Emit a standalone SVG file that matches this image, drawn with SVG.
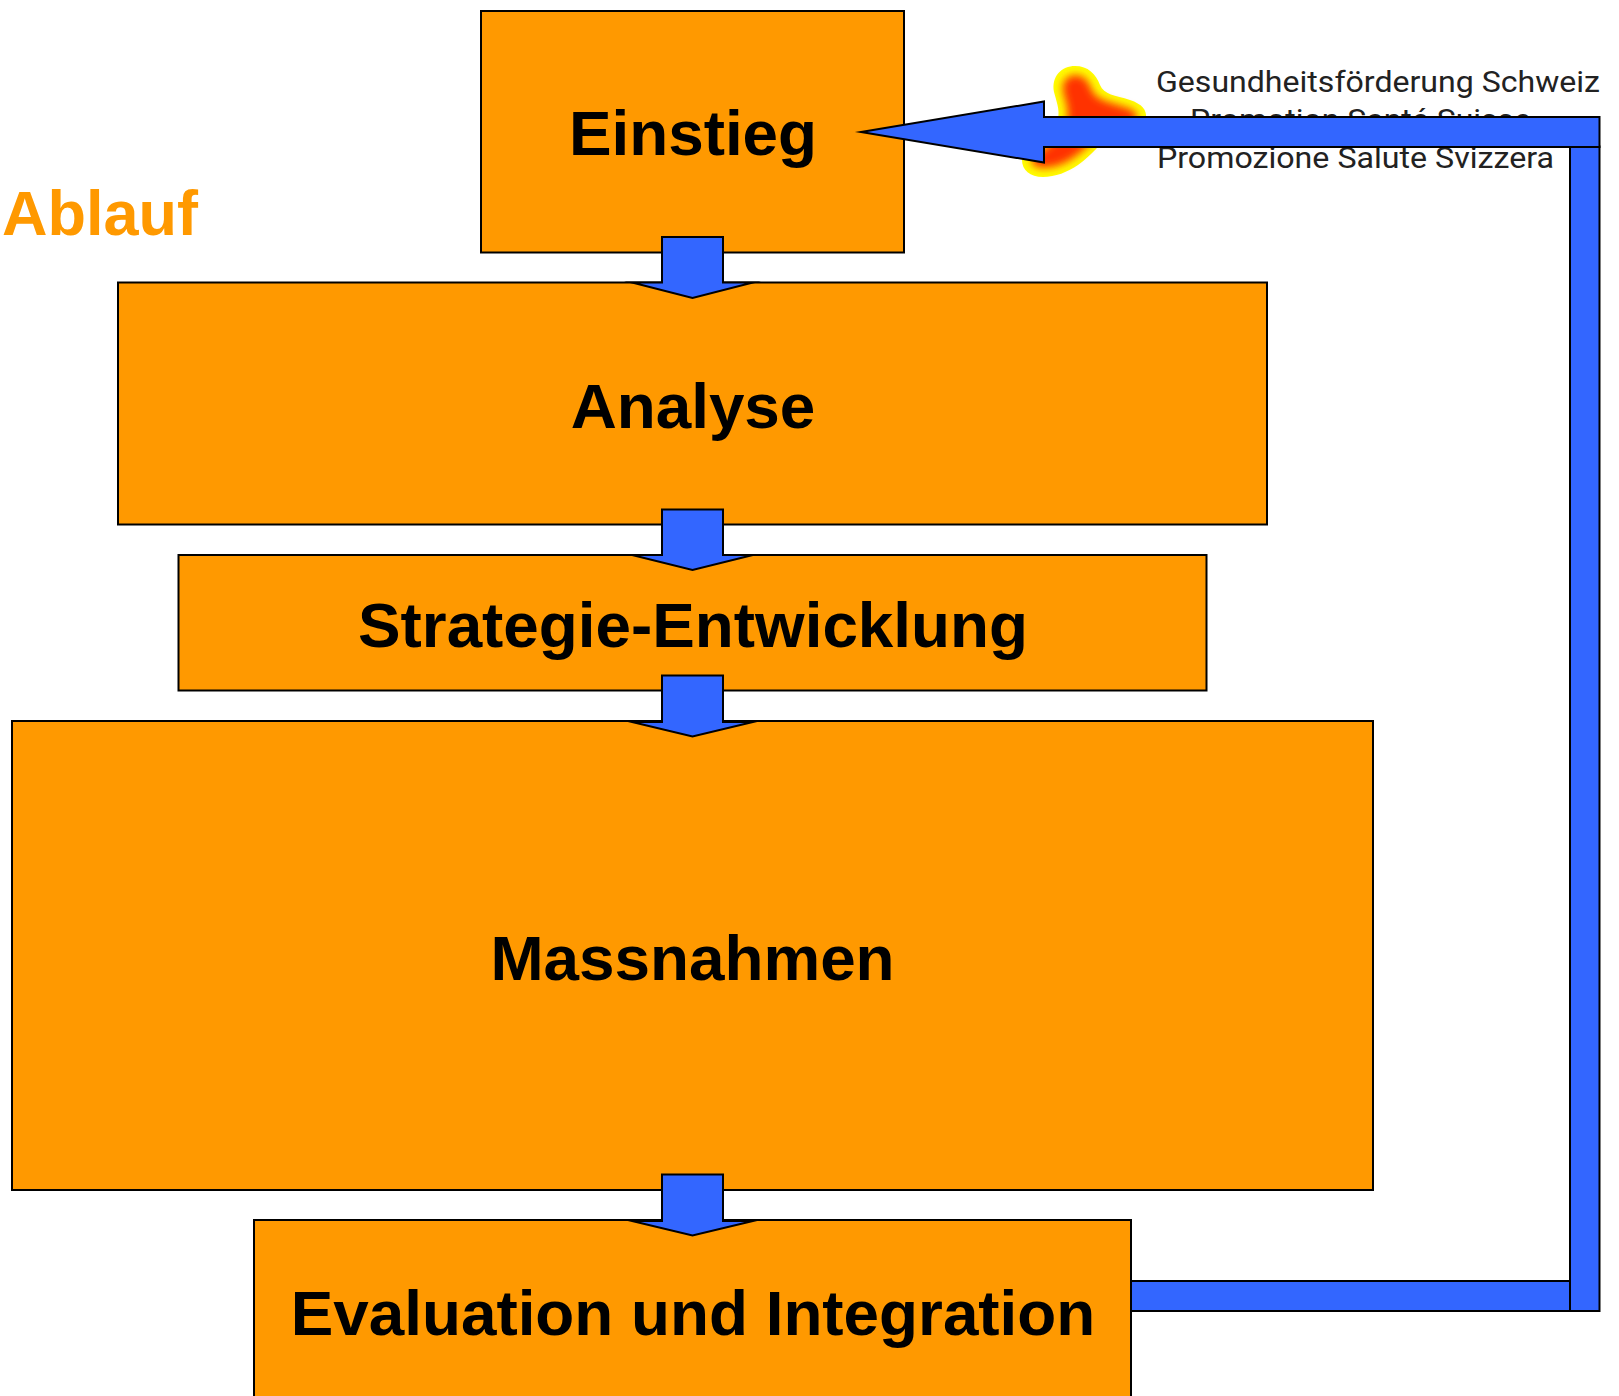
<svg xmlns="http://www.w3.org/2000/svg" width="1619" height="1396" viewBox="0 0 1619 1396">
<style>
.box{fill:#ff9900;stroke:#000;stroke-width:2}
.arrow{fill:#3366ff;stroke:#000;stroke-width:2;stroke-miterlimit:30}
.lbl{font-family:"Liberation Sans",Arial,sans-serif;font-weight:700;font-size:63.800px;text-anchor:middle;fill:#000}
.logo{font-family:"Roboto","Liberation Sans",sans-serif;font-size:30px;font-weight:400;fill:#222}
</style>
<defs>
<filter id="soft" x="-20%" y="-20%" width="140%" height="140%"><feGaussianBlur stdDeviation="4"/></filter>
</defs>
<rect width="1619" height="1396" fill="#fff"/>
<g id="logo">
<path d="M1075 66C1088 66 1096 74 1100 85C1104 95 1115 95 1130 100C1142 104 1147 110 1146 118C1145 130 1115 140 1097 148C1090 155 1085 160 1078 165C1068 172 1055 177 1043 177C1030 177 1022 170 1022 160C1022 150 1050 140 1058 118C1060 110 1056 100 1054 92C1051 76 1062 66 1075 66Z" fill="#ffff00"/>
<path d="M1075 75C1084 75 1088 80 1092 90C1096 100 1110 102 1128 108C1136 111 1138 114 1137 118C1136 125 1110 134 1092 142C1085 149 1079 154 1073 158C1065 164 1053 168 1043 168C1035 168 1031 164 1031 160C1031 155 1058 145 1067 120C1069 110 1065 100 1063 92C1061 82 1067 75 1075 75Z" fill="#ff3000" filter="url(#soft)"/>
<text class="logo" x="1156" y="91.700" textLength="444" lengthAdjust="spacingAndGlyphs">Gesundheitsförderung Schweiz</text>
<text class="logo" x="1190" y="129.500" textLength="341" lengthAdjust="spacingAndGlyphs">Promotion Santé Suisse</text>
<text class="logo" x="1157" y="167.500" textLength="397" lengthAdjust="spacingAndGlyphs">Promozione Salute Svizzera</text>
</g>
<g id="title"><text x="2" y="234.500" class="lbl" style="text-anchor:start;fill:#ff9900;font-size:63px">Ablauf</text></g>
<g id="node-einstieg"><rect class="box" x="481" y="11" width="423" height="241.500"/><text class="lbl" x="693" y="155">Einstieg</text></g>
<g id="node-analyse"><rect class="box" x="118" y="282.500" width="1149" height="242"/><text class="lbl" x="693" y="427.500">Analyse</text></g>
<g id="node-strategie"><rect class="box" x="178.500" y="555" width="1028" height="135.500"/><text class="lbl" x="693" y="646.500">Strategie-Entwicklung</text></g>
<g id="node-massnahmen"><rect class="box" x="12" y="721" width="1361" height="469"/><text class="lbl" x="692.500" y="979.500">Massnahmen</text></g>
<g id="node-evaluation"><rect class="box" x="254" y="1220" width="877" height="190"/><text class="lbl" x="693" y="1334.500">Evaluation und Integration</text></g>
<g id="connectors">
<path class="arrow" d="M662 237H723V282.500H753L692.500 298L632 282.500H662Z"/>
<path class="arrow" d="M662 509.500H723V555H753L692.500 570L632 555H662Z"/>
<path class="arrow" d="M662 675.500H723V722H753L692.500 736.500L632 722H662Z"/>
<path class="arrow" d="M662 1174.500H723V1221H753L692.500 1235.500L632 1221H662Z"/>
<rect class="arrow" x="1131" y="1281" width="439" height="30"/>
<rect class="arrow" x="1570" y="146.500" width="29.500" height="1164.500"/>
<path class="arrow" d="M1599.500 117V147H1044V162.500L861 132L1044 101.500V117Z"/>
</g>
</svg>
